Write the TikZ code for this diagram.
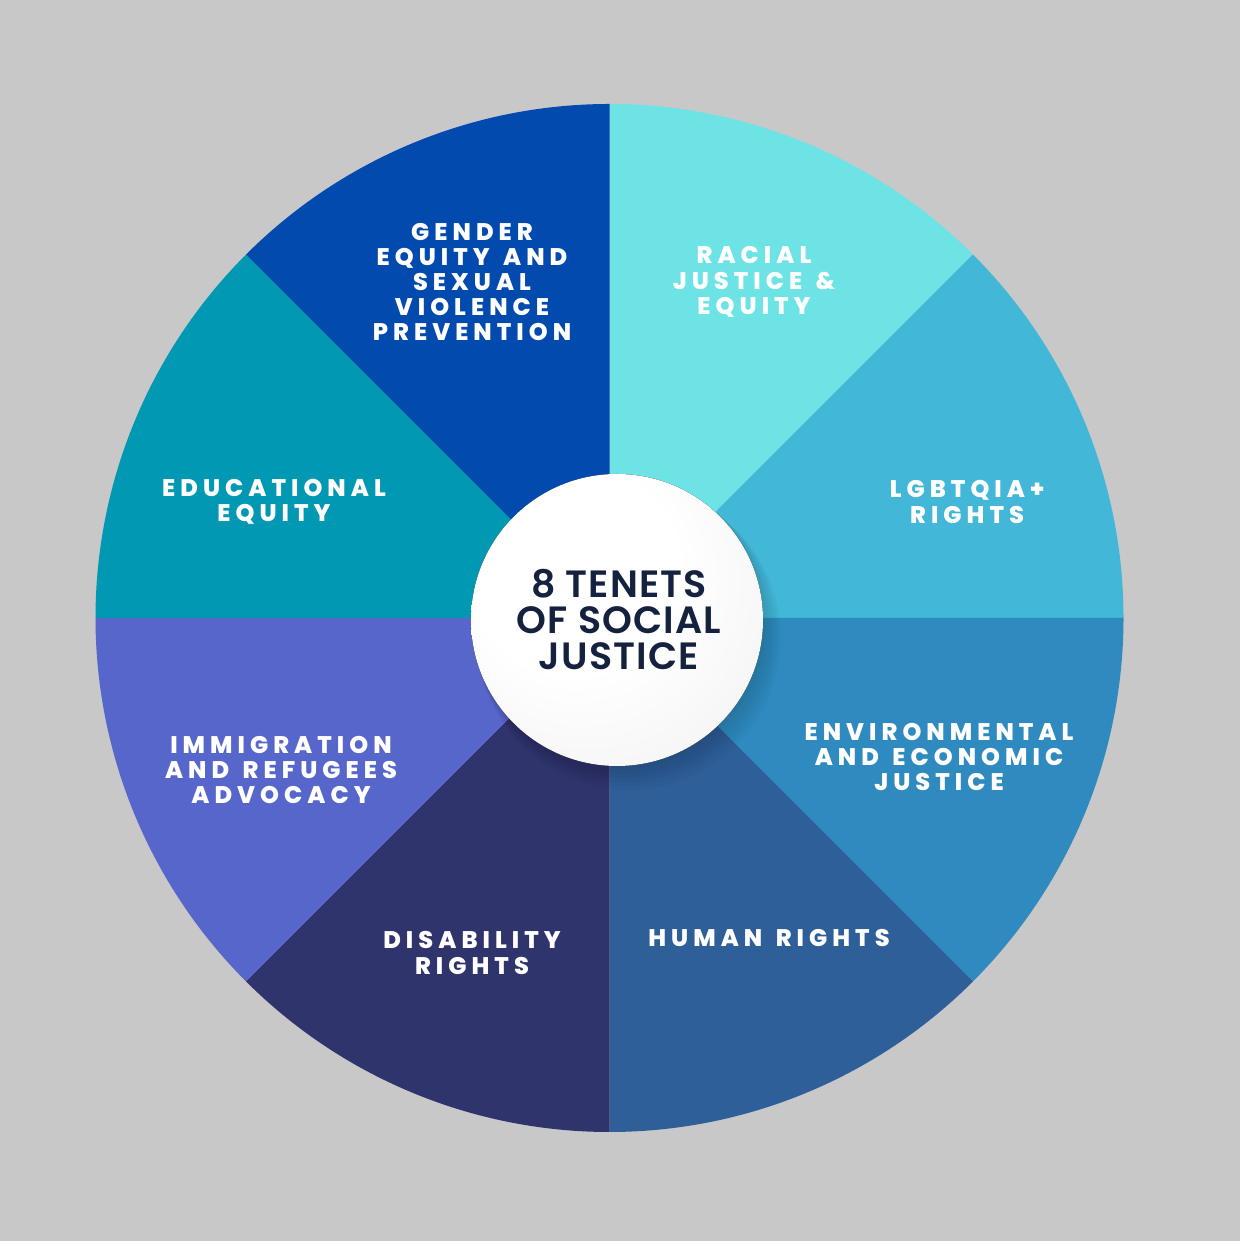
\documentclass[tikz,border=0pt]{standalone}
\usepackage{fontspec}
\newfontfamily\labfont{Poppins ExtraBold}[LetterSpace=21,WordSpace=1.4]
\newfontfamily\ctrfont{Poppins SemiBold}[LetterSpace=3]
\definecolor{bg}{HTML}{C8C8C8}
\definecolor{cRacial}{HTML}{6DE3E6}
\definecolor{cLgbt}{HTML}{42B7D7}
\definecolor{cEnv}{HTML}{2F8BBF}
\definecolor{cHuman}{HTML}{2F5F99}
\definecolor{cDis}{HTML}{30346D}
\definecolor{cImm}{HTML}{5766CA}
\definecolor{cEdu}{HTML}{0098B2}
\definecolor{cGender}{HTML}{034AAE}
\definecolor{navy}{HTML}{14213F}
\pgfdeclareradialshading{whiteball}{\pgfpoint{-12bp}{14bp}}{color(0bp)=(white); color(18bp)=(white); color(38bp)=(black!5); color(50bp)=(black!14)}
\tikzset{
  lab/.style={text=white, align=center, inner sep=0pt,
    font=\labfont\fontsize{12}{12.6}\selectfont},
  ctr/.style={text=navy, align=center, inner sep=0pt,
    font=\ctrfont\fontsize{19}{18}\selectfont}
}
\begin{document}
\begin{tikzpicture}[x=0.5pt,y=0.5pt]
\fill[bg] (0,0) rectangle (1240,1241);
\useasboundingbox (0,0) rectangle (1240,1241);
\coordinate (O) at (609.5,623);
\foreach \a/\c in {45/cRacial,0/cLgbt,-45/cEnv,-90/cHuman,-135/cDis,-180/cImm,135/cEdu,90/cGender}
  \fill[\c] (O) -- ++(\a:514) arc[start angle=\a, end angle=\a+45, radius=514] -- cycle;
% ball shadow
\foreach \k in {1,...,6}
  \fill[black, opacity=0.025] (617+2*\k,621-3*\k) circle[radius=146+\k];
\fill[shading=whiteball] (617,621) circle[radius=146];
\node[ctr] (center) at (619,621) {8 TENETS\\OF SOCIAL\\JUSTICE};
\node[lab] (gender) at (472,959) {GENDER\\EQUITY AND\\SEXUAL\\VIOLENCE\\PREVENTION};
\node[lab] (racial) at (754,959) {RACIAL\\JUSTICE \&\\EQUITY};
\node[lab] (lgbt) at (967,739) {LGBTQIA+\\RIGHTS};
\node[lab] (edu) at (274,739) {EDUCATIONAL\\EQUITY};
\node[lab] (env) at (939,484) {ENVIRONMENTAL\\AND ECONOMIC\\JUSTICE};
\node[lab] (imm) at (281,471) {IMMIGRATION\\AND REFUGEES\\ADVOCACY};
\node[lab] (dis) at (472,288) {DISABILITY\\RIGHTS};
\node[lab] (human) at (769,303) {HUMAN RIGHTS};
\end{tikzpicture}
\end{document}
